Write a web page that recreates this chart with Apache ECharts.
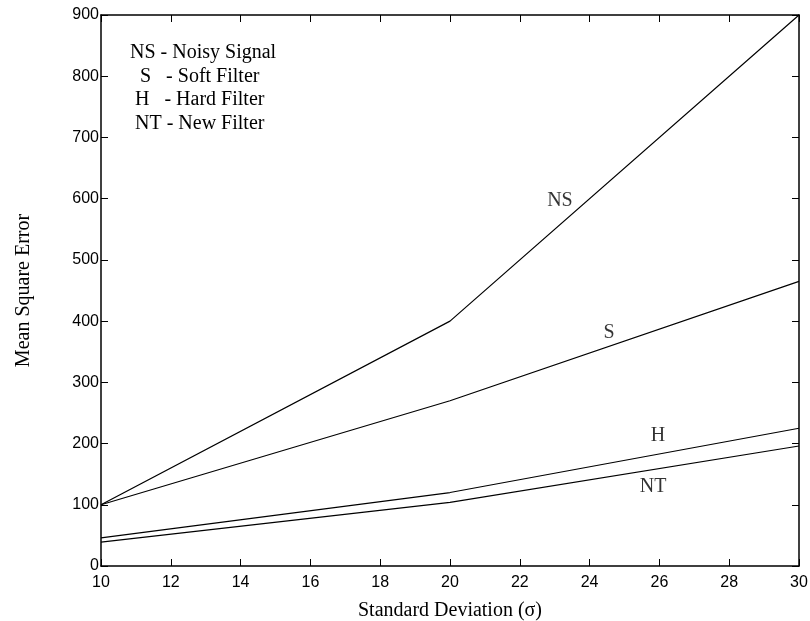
<!DOCTYPE html>
<html>
<head>
<meta charset="utf-8">
<script src="https://cdn.jsdelivr.net/npm/echarts@6/dist/echarts.min.js"></script>
<style>
html,body{margin:0;padding:0;background:#fff;}
#chart{width:810px;height:621px;}
</style>
</head>
<body>
<div id="chart"></div>
<script>
var xValues = [10, 20, 30];
var nsValues = [100, 400, 900];
var sValues = [100, 270, 465];
var hValues = [46, 120, 225];
var ntValues = [39, 104, 196];
var xTicks = [10, 12, 14, 16, 18, 20, 22, 24, 26, 28, 30];
var yTicks = [0, 100, 200, 300, 400, 500, 600, 700, 800, 900];
var curveLabels = [
  {name: 'NS', x: 23.15, y: 596},
  {name: 'S', x: 24.56, y: 381},
  {name: 'H', x: 25.96, y: 212},
  {name: 'NT', x: 25.82, y: 129}
];
var legendLines = ['NS - Noisy Signal', 'S   - Soft Filter', 'H   - Hard Filter', 'NT - New Filter'];

function pairs(ys) { return xValues.map(function (x, i) { return [x, ys[i]]; }); }

var chart = echarts.init(document.getElementById('chart'), null, {renderer: 'canvas'});
var serif = '"Liberation Serif", "Times New Roman", serif';
var sans = '"Liberation Sans", Arial, sans-serif';
var lineStyle = {color: '#000', width: 1.2};

function axisCommon(extra) {
  return Object.assign({
    axisLine: {show: true, onZero: false, lineStyle: {color: '#000', width: 1.5}},
    axisTick: {show: true, inside: true, length: 7, lineStyle: {color: '#000', width: 1}},
    splitLine: {show: false}
  }, extra);
}

var option = {
  animation: false,
  backgroundColor: '#fff',
  grid: {left: 101, right: 11, top: 15, bottom: 55, containLabel: false, outerBoundsMode: 'none'},
  xAxis: [
    axisCommon({
      type: 'value', min: 10, max: 30, interval: 2, position: 'bottom',
      name: 'Standard Deviation (\u03c3)', nameLocation: 'middle', nameGap: 35,
      nameMoveOverlap: false,
      nameTextStyle: {fontFamily: serif, fontSize: 20, color: '#000'},
      axisLabel: {fontFamily: sans, fontSize: 16, color: '#000', margin: 9,
        formatter: function (v) { return xTicks.indexOf(v) >= 0 ? String(v) : ''; }}
    }),
    axisCommon({
      type: 'value', min: 10, max: 30, interval: 2, position: 'top',
      axisLabel: {show: false}
    })
  ],
  yAxis: [
    axisCommon({
      type: 'value', min: 0, max: 900, interval: 100, position: 'left',
      name: 'Mean Square Error', nameLocation: 'middle', nameGap: 67,
      nameMoveOverlap: false,
      nameTextStyle: {fontFamily: serif, fontSize: 20, color: '#000'},
      axisLabel: {fontFamily: sans, fontSize: 16, color: '#000', margin: 2,
        formatter: function (v) { return yTicks.indexOf(v) >= 0 ? String(v) : ''; }}
    }),
    axisCommon({
      type: 'value', min: 0, max: 900, interval: 100, position: 'right',
      axisLabel: {show: false}
    })
  ],
  series: [
    {type: 'line', name: 'NS', data: pairs(nsValues), symbol: 'none', lineStyle: lineStyle},
    {type: 'line', name: 'S', data: pairs(sValues), symbol: 'none', lineStyle: lineStyle},
    {type: 'line', name: 'H', data: pairs(hValues), symbol: 'none', lineStyle: lineStyle},
    {type: 'line', name: 'NT', data: pairs(ntValues), symbol: 'none', lineStyle: lineStyle},
    {
      type: 'scatter', symbolSize: 0, silent: true,
      data: curveLabels.map(function (d) { return {name: d.name, value: [d.x, d.y]}; }),
      label: {show: true, position: 'inside', formatter: '{b}',
        fontFamily: serif, fontSize: 20, color: '#000'}
    }
  ],
  graphic: legendLines.map(function (t, i) {
    var xs = [130, 140, 135, 135];
    return {
      type: 'text', left: xs[i], top: 54 + i * 23.5 - 11,
      style: {text: t, font: '20px ' + serif, fill: '#000', whiteSpace: 'pre'}
    };
  })
};
chart.setOption(option);
</script>
</body>
</html>
